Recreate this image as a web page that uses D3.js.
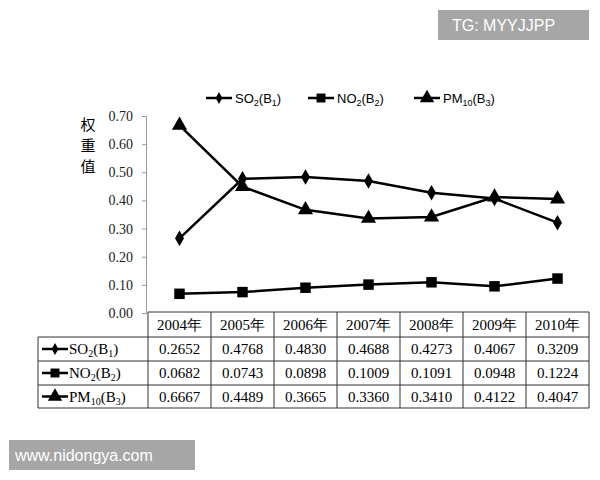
<!DOCTYPE html><html><head><meta charset="utf-8"><script src="https://cdn.jsdelivr.net/npm/d3@7"></script>
<style>body{margin:0;background:#fff}</style></head><body><svg width="600" height="480"></svg>
<script>
const years=["2004年","2005年","2006年","2007年","2008年","2009年","2010年"];
const so2=[0.2652,0.4768,0.4830,0.4688,0.4273,0.4067,0.3209];
const no2=[0.0682,0.0743,0.0898,0.1009,0.1091,0.0948,0.1224];
const pm10=[0.6667,0.4489,0.3665,0.3360,0.3410,0.4122,0.4047];
const yTicks=[0,0.1,0.2,0.3,0.4,0.5,0.6,0.7];
const series=[{name:"SO",sub:"2",b:"1",v:so2,sym:d3.symbolDiamond,size:40,ps:70},
{name:"NO",sub:"2",b:"2",v:no2,sym:d3.symbolSquare,size:80,ps:110},
{name:"PM",sub:"10",b:"3",v:pm10,sym:d3.symbolTriangle,size:90,ps:100}];
const svg=d3.select("svg");
const serif="Times New Roman, Liberation Serif, serif";
const x=d3.scaleBand().domain(years).range([148,589]);
const y=d3.scaleLinear().domain([0,0.7]).range([313,116]);
const ax=svg.append("g").attr("transform","translate(146,0)").call(d3.axisLeft(y).tickValues(yTicks).tickFormat(d3.format(".2f")).tickSize(4));
ax.select(".domain").attr("stroke","#999");ax.selectAll("line").attr("stroke","#999");
ax.selectAll("text").attr("font-family",serif).attr("font-size",14).attr("fill","#222").attr("dx",-6);
["权","重","值"].forEach((c,i)=>svg.append("text").attr("x",88).attr("y",130+i*21).attr("text-anchor","middle").attr("font-size",15).attr("font-family","Noto Sans CJK SC").text(c));
const cx=d=>x(d)+x.bandwidth()/2;
series.forEach(s=>{
svg.append("path").datum(s.v).attr("fill","none").attr("stroke","#000").attr("stroke-width",2.5)
.attr("d",d3.line().x((d,i)=>cx(years[i])).y(d=>y(d)));
svg.selectAll(null).data(s.v).enter().append("path").attr("d",d3.symbol(s.sym,s.ps))
.attr("transform",(d,i)=>`translate(${cx(years[i])},${y(d)})`).attr("fill","#000");
});
const lx=[206,308,414];
series.forEach((s,i)=>{
const g=svg.append("g").attr("transform",`translate(${lx[i]},98)`);
g.append("line").attr("x1",0).attr("x2",26).attr("stroke","#000").attr("stroke-width",2.5);
g.append("path").attr("d",d3.symbol(s.sym,s.size)).attr("transform","translate(13,0)");
const t=g.append("text").attr("x",29).attr("y",5).attr("font-size",13).attr("font-family","Liberation Sans, Arial");
t.append("tspan").text(s.name);t.append("tspan").attr("font-size",9).attr("dy",3).text(s.sub);
t.append("tspan").attr("dy",-3).text("(B");t.append("tspan").attr("font-size",9).attr("dy",3).text(s.b);
t.append("tspan").attr("dy",-3).text(")");
});
const rows=[312,337,361,385,408];
const tg=svg.append("g").attr("stroke","#333").attr("stroke-width",1);
tg.append("line").attr("x1",148).attr("x2",589).attr("y1",rows[0]).attr("y2",rows[0]);
rows.slice(1).forEach(r=>tg.append("line").attr("x1",38).attr("x2",589).attr("y1",r).attr("y2",r));
tg.append("line").attr("x1",38).attr("x2",38).attr("y1",rows[1]).attr("y2",rows[4]);
years.forEach(yr=>tg.append("line").attr("x1",x(yr)).attr("x2",x(yr)).attr("y1",rows[0]).attr("y2",rows[4]));
tg.append("line").attr("x1",589).attr("x2",589).attr("y1",rows[0]).attr("y2",rows[4]);
years.forEach(yr=>svg.append("text").attr("x",cx(yr)).attr("y",330).attr("text-anchor","middle").attr("font-size",15).attr("font-family",serif).text(yr));
series.forEach((s,i)=>{
const ry=(rows[i+1]+rows[i+2])/2;
svg.append("line").attr("x1",42).attr("x2",68).attr("y1",ry).attr("y2",ry).attr("stroke","#000").attr("stroke-width",2.5);
svg.append("path").attr("d",d3.symbol(s.sym,s.size)).attr("transform",`translate(55,${ry})`);
const t=svg.append("text").attr("x",69).attr("y",ry+5).attr("font-size",15).attr("font-family",serif);
t.append("tspan").text(s.name);t.append("tspan").attr("font-size",10).attr("dy",3).text(s.sub);
t.append("tspan").attr("dy",-3).text("(B");t.append("tspan").attr("font-size",10).attr("dy",3).text(s.b);
t.append("tspan").attr("dy",-3).text(")");
s.v.forEach((v,j)=>svg.append("text").attr("x",cx(years[j])).attr("y",ry+5).attr("text-anchor","middle").attr("font-size",15).attr("font-family",serif).text(v.toFixed(4)));
});
svg.append("rect").attr("x",438).attr("y",10).attr("width",151).attr("height",30).attr("fill","#a6a6a6");
svg.append("text").attr("x",452).attr("y",31).attr("fill","#fff").attr("font-size",16).attr("font-family","Liberation Sans, Arial").text("TG: MYYJJPP");
svg.append("rect").attr("x",9).attr("y",440).attr("width",186).attr("height",30).attr("fill","#a6a6a6");
svg.append("text").attr("x",15).attr("y",461).attr("fill","#fff").attr("font-size",16).attr("font-family","Liberation Sans, Arial").text("www.nidongya.com");
</script></body></html>
